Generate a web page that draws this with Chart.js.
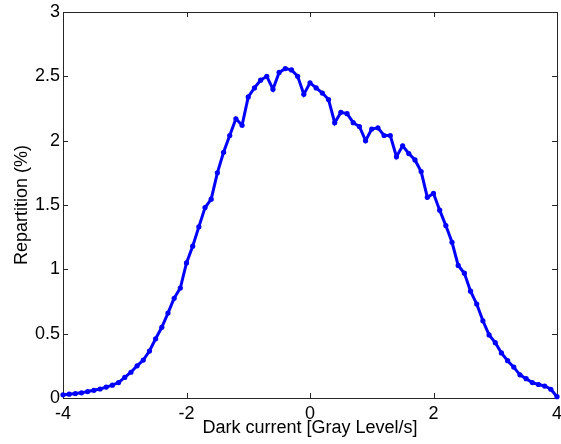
<!DOCTYPE html>
<html>
<head>
<meta charset="utf-8">
<script src="https://cdn.jsdelivr.net/npm/chart.js@4.4.1/dist/chart.umd.min.js"></script>
<style>
html, body { margin: 0; padding: 0; background: #fff; }
#wrap { position: relative; width: 561px; height: 444px; }
</style>
</head>
<body>
<div id="wrap"><canvas id="darkChart"></canvas></div>
<script>
// dark current bins (Gray Level/s)
const darkCurrent = [
  -4.0, -3.9, -3.8, -3.7, -3.6, -3.5, -3.4, -3.3, -3.2, -3.1,
  -3.0, -2.9, -2.8, -2.7, -2.6, -2.5, -2.4, -2.3, -2.2, -2.1,
  -2.0, -1.9, -1.8, -1.7, -1.6, -1.5, -1.4, -1.3, -1.2, -1.1,
  -1.0, -0.9, -0.8, -0.7, -0.6, -0.5, -0.4, -0.3, -0.2, -0.1,
  0.0, 0.1, 0.2, 0.3, 0.4, 0.5, 0.6, 0.7, 0.8, 0.9,
  1.0, 1.1, 1.2, 1.3, 1.4, 1.5, 1.6, 1.7, 1.8, 1.9,
  2.0, 2.1, 2.2, 2.3, 2.4, 2.5, 2.6, 2.7, 2.8, 2.9,
  3.0, 3.1, 3.2, 3.3, 3.4, 3.5, 3.6, 3.7, 3.8, 3.9,
  4.0
];
// repartition (%)
const repartition = [
  0.025, 0.03, 0.035, 0.04, 0.05, 0.06, 0.07, 0.085, 0.10, 0.12,
  0.16, 0.20, 0.25, 0.295, 0.365, 0.46, 0.55, 0.66, 0.775, 0.855,
  1.05, 1.18, 1.33, 1.48, 1.545, 1.75, 1.91, 2.04, 2.17, 2.12,
  2.34, 2.41, 2.47, 2.50, 2.40, 2.53, 2.56, 2.55, 2.50, 2.36,
  2.45, 2.41, 2.37, 2.32, 2.14, 2.22, 2.21, 2.14, 2.11, 2.00,
  2.09, 2.10, 2.04, 2.04, 1.875, 1.96, 1.90, 1.85, 1.76, 1.56,
  1.59, 1.46, 1.34, 1.21, 1.03, 0.97, 0.83, 0.73, 0.60, 0.49,
  0.43, 0.35, 0.29, 0.24, 0.18, 0.15, 0.12, 0.105, 0.093, 0.068,
  0.01
];
const xTicks = [-4, -2, 0, 2, 4];
const yTicks = [0, 0.5, 1, 1.5, 2, 2.5, 3];

const axisColor = '#262626';
const font = { family: 'Liberation Sans, Arial, sans-serif', size: 18 };

// matlab style box with inward ticks on all sides
const boxPlugin = {
  id: 'boxPlugin',
  beforeDatasetsDraw(chart) {
    const { ctx, chartArea: a, scales } = chart;
    const len = 5;
    ctx.save();
    ctx.strokeStyle = axisColor;
    ctx.lineWidth = 1;
    ctx.beginPath();
    ctx.rect(Math.round(a.left) + 0.5, Math.round(a.top) + 0.5,
             Math.round(a.width), Math.round(a.height));
    xTicks.forEach(v => {
      const px = Math.round(scales.x.getPixelForValue(v)) + 0.5;
      ctx.moveTo(px, a.bottom); ctx.lineTo(px, a.bottom - len);
      ctx.moveTo(px, a.top); ctx.lineTo(px, a.top + len);
    });
    yTicks.forEach(v => {
      const py = Math.round(scales.y.getPixelForValue(v)) + 0.5;
      ctx.moveTo(a.left, py); ctx.lineTo(a.left + len, py);
      ctx.moveTo(a.right, py); ctx.lineTo(a.right - len, py);
    });
    ctx.stroke();
    ctx.restore();
  }
};

const ctx = document.getElementById('darkChart').getContext('2d');
const chart = new Chart(ctx, {
  type: 'line',
  data: {
    datasets: [{
      data: darkCurrent.map((x, i) => ({ x: x, y: repartition[i] })),
      borderColor: '#0000ff',
      backgroundColor: '#0000ff',
      borderWidth: 3,
      pointRadius: 2.6,
      pointBorderWidth: 0,
      tension: 0,
      clip: false
    }]
  },
  options: {
    responsive: true,
    maintainAspectRatio: false,
    animation: false,
    layout: { padding: { left: 0, right: 1, top: 12, bottom: 0 } },
    plugins: {
      legend: { display: false },
      tooltip: { enabled: false }
    },
    scales: {
      x: {
        type: 'linear',
        min: -4,
        max: 4,
        afterBuildTicks: s => { s.ticks = xTicks.map(v => ({ value: v })); },
        afterFit: s => { s.height = 46; s.paddingLeft = 0; s.paddingRight = 0; },
        grid: { display: false, drawTicks: false },
        border: { display: false },
        ticks: {
          color: '#000',
          font: font,
          padding: 5,
          maxRotation: 0,
          callback: v => String(v)
        },
        title: {
          display: true,
          text: 'Dark current [Gray Level/s]',
          color: '#000',
          font: font,
          padding: { top: 0, bottom: 5 }
        }
      },
      y: {
        type: 'linear',
        min: 0,
        max: 3,
        afterBuildTicks: s => { s.ticks = yTicks.map(v => ({ value: v })); },
        afterFit: s => { s.width = 63; s.paddingTop = 0; s.paddingBottom = 0; },
        grid: { display: false, drawTicks: false },
        border: { display: false },
        ticks: {
          color: '#000',
          font: font,
          padding: 3,
          callback: v => String(v)
        },
        title: {
          display: true,
          text: 'Repartition (%)',
          color: '#000',
          font: font,
          padding: { top: 11, bottom: 0 }
        }
      }
    }
  },
  plugins: [boxPlugin]
});
</script>
</body>
</html>
